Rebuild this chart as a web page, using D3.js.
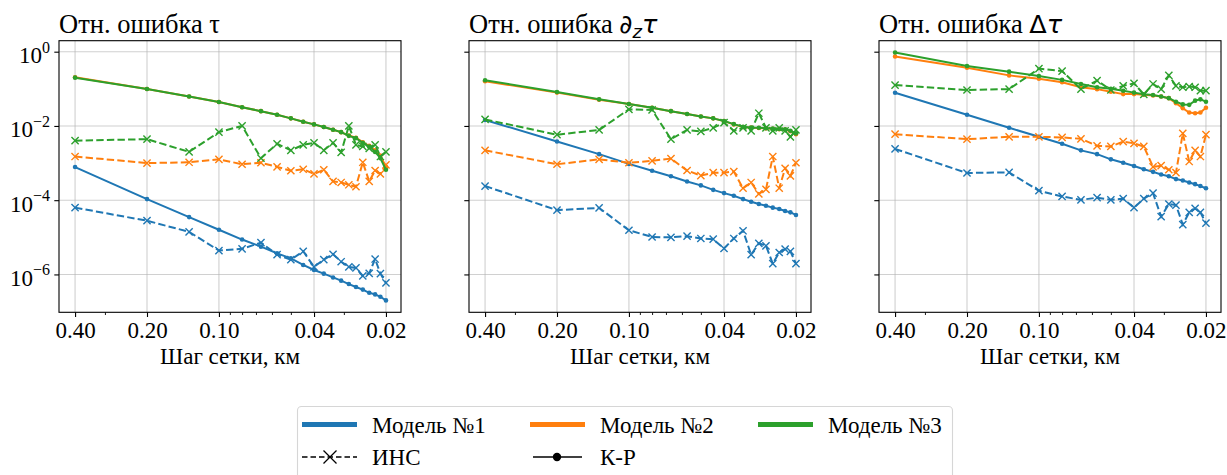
<!DOCTYPE html>
<html>
<head>
<meta charset="utf-8">
<script src="https://cdn.jsdelivr.net/npm/d3@7"></script>
<style>
  body { margin: 0; background: #fff; }
  text { font-family: "Liberation Serif", "Times New Roman", serif; fill: #000; }
</style>
</head>
<body>
<svg id="chart" width="1227" height="475"></svg>
<script>
// grid step, km (0.4 / n)
const steps = [0.4, 0.2, 0.1333, 0.1, 0.08, 0.0667, 0.0571, 0.05, 0.0444, 0.04,
  0.0364, 0.0333, 0.0308, 0.0286, 0.0267, 0.025, 0.0235, 0.0222, 0.0211, 0.02];

const xTicks = [0.4, 0.2, 0.1, 0.04, 0.02];
const xTickLabels = ['0.40', '0.20', '0.10', '0.04', '0.02'];
const xMinor = [0.3, 0.09, 0.08, 0.07, 0.06, 0.05, 0.03];
const yTicks = [1, 1e-2, 1e-4, 1e-6];
const yTickExp = ['0', '\u22122', '\u22124', '\u22126'];

const models = ['Модель №1', 'Модель №2', 'Модель №3'];
const colors = ['#1f77b4', '#ff7f0e', '#2ca02c'];

// panel 1: τ
const tauKrM1 = [7.8e-4, 1.07e-4, 3.5e-5, 1.6e-5, 8.7e-6, 5.6e-6, 3.7e-6, 2.7e-6, 1.8e-6, 1.32e-6,
  1.05e-6, 8.3e-7, 6.8e-7, 5.5e-7, 4.6e-7, 3.9e-7, 3.2e-7, 2.9e-7, 2.5e-7, 2.0e-7];
const tauInsM1 = [6.3e-5, 2.8e-5, 1.4e-5, 4.4e-6, 4.9e-6, 7.2e-6, 3.4e-6, 2.5e-6, 4.2e-6, 1.6e-6,
  2.5e-6, 3.5e-6, 2.2e-6, 1.6e-6, 1.5e-6, 9.1e-7, 1.07e-6, 2.6e-6, 1.05e-6, 5.9e-7];
const tauKrM2 = [2.05e-1, 9.9e-2, 6.2e-2, 4.4e-2, 3.2e-2, 2.5e-2, 2.0e-2, 1.6e-2, 1.3e-2, 1.1e-2,
  9.4e-3, 7.9e-3, 6.8e-3, 5.5e-3, 4.8e-3, 3.6e-3, 2.9e-3, 2.2e-3, 1.6e-3, 7.9e-4];
const tauInsM2 = [1.5e-3, 1.0e-3, 1.05e-3, 1.26e-3, 9.3e-4, 1.02e-3, 7.9e-4, 6.2e-4, 6.8e-4, 5.1e-4,
  6.6e-4, 3.2e-4, 3.0e-4, 2.6e-4, 2.3e-4, 1.05e-3, 3.2e-4, 6.3e-4, 5.1e-4, 8.9e-4];
const tauKrM3 = [2.0e-1, 9.9e-2, 6.2e-2, 4.4e-2, 3.2e-2, 2.5e-2, 2.0e-2, 1.6e-2, 1.3e-2, 1.1e-2,
  9.4e-3, 7.9e-3, 6.8e-3, 5.4e-3, 4.7e-3, 3.5e-3, 2.8e-3, 2.0e-3, 1.35e-3, 6.6e-4];
const tauInsM3 = [4.0e-3, 4.4e-3, 2.0e-3, 6.8e-3, 1.0e-2, 1.35e-3, 3.3e-3, 2.2e-3, 3.1e-3, 3.5e-3,
  2.2e-3, 3.5e-3, 1.95e-3, 1.0e-2, 3.1e-3, 2.8e-3, 2.5e-3, 3.1e-3, 1.5e-3, 2.0e-3];

// panel 2: ∂zτ
const dzKrM1 = [1.45e-2, 3.8e-3, 1.74e-3, 9.5e-4, 6.2e-4, 4.4e-4, 3.2e-4, 2.5e-4, 1.9e-4, 1.55e-4,
  1.32e-4, 1.07e-4, 9.1e-5, 7.9e-5, 7.1e-5, 6.3e-5, 5.8e-5, 5.1e-5, 4.7e-5, 4.0e-5];
const dzInsM1 = [2.4e-4, 5.4e-5, 6.2e-5, 1.55e-5, 1.02e-5, 1.0e-5, 1.07e-5, 9.3e-6, 8.9e-6, 5.0e-6,
  9.3e-6, 1.5e-5, 3.4e-6, 6.9e-6, 5.9e-6, 1.95e-6, 3.9e-6, 4.8e-6, 4.2e-6, 1.95e-6];
const dzKrM2 = [1.6e-1, 7.9e-2, 5.1e-2, 3.9e-2, 3.1e-2, 2.5e-2, 2.1e-2, 1.8e-2, 1.6e-2, 1.35e-2,
  1.1e-2, 9.4e-3, 9.0e-3, 8.8e-3, 8.6e-3, 8.4e-3, 8.2e-3, 8.0e-3, 7.2e-3, 6.0e-3];
const dzInsM2 = [2.2e-3, 9.3e-4, 1.26e-3, 1.02e-3, 1.15e-3, 1.32e-3, 6.3e-4, 4.6e-4, 5.5e-4, 5.5e-4,
  5.9e-4, 2.1e-4, 3.0e-4, 1.48e-4, 1.95e-4, 1.5e-3, 2.1e-4, 7.2e-4, 4.5e-4, 1.02e-3];
const dzKrM3 = [1.7e-1, 8.2e-2, 5.2e-2, 3.9e-2, 3.1e-2, 2.5e-2, 2.1e-2, 1.8e-2, 1.6e-2, 1.36e-2,
  1.12e-2, 9.5e-3, 9.1e-3, 8.9e-3, 8.7e-3, 8.5e-3, 8.3e-3, 8.1e-3, 7.4e-3, 6.3e-3];
const dzInsM3 = [1.5e-2, 5.8e-3, 7.8e-3, 2.8e-2, 2.7e-2, 4.4e-3, 7.8e-3, 7.1e-3, 8.9e-3, 1.23e-2,
  7.4e-3, 8.9e-3, 7.4e-3, 2.2e-2, 8.9e-3, 7.4e-3, 8.9e-3, 7.4e-3, 5.1e-3, 7.8e-3];

// panel 3: Δτ
const lapKrM1 = [7.8e-2, 2.0e-2, 8.9e-3, 5.1e-3, 3.3e-3, 2.2e-3, 1.74e-3, 1.26e-3, 1.02e-3, 8.3e-4,
  6.8e-4, 5.8e-4, 4.9e-4, 4.4e-4, 3.7e-4, 3.4e-4, 3.0e-4, 2.7e-4, 2.4e-4, 2.1e-4];
const lapInsM1 = [2.4e-3, 5.4e-4, 5.6e-4, 1.8e-4, 1.26e-4, 1.02e-4, 1.17e-4, 1.02e-4, 1.1e-4, 6.3e-5,
  1.1e-4, 1.55e-4, 3.6e-5, 7.9e-5, 7.4e-5, 2.2e-5, 4.7e-5, 6.0e-5, 4.7e-5, 2.4e-5];
const lapKrM2 = [7.4e-1, 3.7e-1, 2.3e-1, 1.86e-1, 1.5e-1, 1.1e-1, 9.8e-2, 8.3e-2, 7.2e-2, 7.2e-2,
  6.9e-2, 6.6e-2, 6.2e-2, 5.6e-2, 4.1e-2, 3.0e-2, 2.3e-2, 2.2e-2, 2.3e-2, 3.1e-2];
const lapInsM2 = [6.0e-3, 4.4e-3, 5.1e-3, 5.1e-3, 4.9e-3, 4.5e-3, 2.9e-3, 2.8e-3, 3.8e-3, 3.4e-3,
  2.8e-3, 7.9e-4, 8.5e-4, 6.6e-4, 5.5e-4, 6.3e-3, 1.1e-3, 2.2e-3, 1.5e-3, 5.8e-3];
const lapKrM3 = [9.5e-1, 4.1e-1, 2.9e-1, 2.2e-1, 1.74e-1, 1.35e-1, 1.1e-1, 1.0e-1, 8.9e-2, 7.9e-2,
  7.1e-2, 6.8e-2, 6.2e-2, 5.6e-2, 4.5e-2, 3.8e-2, 3.7e-2, 4.8e-2, 5.2e-2, 4.5e-2];
const lapInsM3 = [1.26e-1, 9.3e-2, 9.8e-2, 3.5e-1, 3.0e-1, 9.8e-2, 1.66e-1, 9.3e-2, 1.2e-1, 1.4e-1,
  7.1e-2, 1.35e-1, 9.8e-2, 2.3e-1, 1.2e-1, 1.1e-1, 1.15e-1, 1.1e-1, 8.9e-2, 8.9e-2];

const panels = [
  { kr: [tauKrM1, tauKrM2, tauKrM3], ins: [tauInsM1, tauInsM2, tauInsM3] },
  { kr: [dzKrM1, dzKrM2, dzKrM3], ins: [dzInsM1, dzInsM2, dzInsM3] },
  { kr: [lapKrM1, lapKrM2, lapKrM3], ins: [lapInsM1, lapInsM2, lapInsM3] }
];

const svg = d3.select('#chart');
const lefts = [59, 469, 879];
const panelTop = 40.7;
const width = 342;
const height = 271.6;

const x = d3.scaleLog().domain([0.467, 0.0173]).range([0, width]);
const y = d3.scaleLog().domain([9.55e-8, 1.977]).range([height, 0]);

const line = d3.line()
  .x(d => x(d[0]))
  .y(d => y(d[1]));

panels.forEach((p, i) => {
  const g = svg.append('g').attr('transform', `translate(${lefts[i]}, ${panelTop})`);

  // grid
  g.selectAll('.vgrid').data(xTicks).enter().append('line')
    .attr('x1', d => x(d)).attr('x2', d => x(d))
    .attr('y1', 0).attr('y2', height)
    .attr('stroke', '#b0b0b0').attr('stroke-opacity', 0.6).attr('stroke-width', 1.1);
  g.selectAll('.hgrid').data(yTicks).enter().append('line')
    .attr('y1', d => y(d)).attr('y2', d => y(d))
    .attr('x1', 0).attr('x2', width)
    .attr('stroke', '#b0b0b0').attr('stroke-opacity', 0.6).attr('stroke-width', 1.1);

  // series: model by model, ИНС then К-Р
  for (let m = 0; m < 3; m++) {
    const ins = steps.map((s, k) => [s, p.ins[m][k]]);
    const kr = steps.map((s, k) => [s, p.kr[m][k]]);

    g.append('path').datum(ins)
      .attr('d', line).attr('fill', 'none')
      .attr('stroke', colors[m]).attr('stroke-width', 2)
      .attr('stroke-dasharray', '7.4,3.2');
    g.append('g').selectAll('path').data(ins).enter().append('path')
      .attr('d', d => {
        const cx = x(d[0]), cy = y(d[1]), r = 3.6;
        return `M${cx - r},${cy - r}L${cx + r},${cy + r}M${cx - r},${cy + r}L${cx + r},${cy - r}`;
      })
      .attr('stroke', colors[m]).attr('stroke-width', 1.4);

    g.append('path').datum(kr)
      .attr('d', line).attr('fill', 'none')
      .attr('stroke', colors[m]).attr('stroke-width', 2);
    g.append('g').selectAll('circle').data(kr).enter().append('circle')
      .attr('cx', d => x(d[0])).attr('cy', d => y(d[1])).attr('r', 2.3)
      .attr('fill', colors[m]);
  }

  // frame
  g.append('rect').attr('width', width).attr('height', height)
    .attr('fill', 'none').attr('stroke', '#000').attr('stroke-width', 1.1);

  // x axis
  const xAxis = d3.axisBottom(x)
    .tickValues(xTicks)
    .tickFormat((d, k) => xTickLabels[k])
    .tickSize(4.7).tickPadding(5);
  const xg = g.append('g').attr('transform', `translate(0, ${height})`).call(xAxis);
  xg.select('.domain').remove();
  xg.selectAll('line').attr('stroke-width', 1.1);
  xg.selectAll('text').attr('font-size', 23).attr('font-family', 'Liberation Serif');

  const xmg = g.append('g').attr('transform', `translate(0, ${height})`)
    .call(d3.axisBottom(x).tickValues(xMinor).tickFormat('').tickSize(2.7));
  xmg.select('.domain').remove();
  xmg.selectAll('line').attr('stroke-width', 0.9);

  // y axis
  const yAxis = d3.axisLeft(y).tickValues(yTicks).tickFormat('').tickSize(4.7);
  const yg = g.append('g').call(yAxis);
  yg.select('.domain').remove();
  yg.selectAll('line').attr('stroke-width', 1.1);
  if (i === 0) {
    yTicks.forEach((t, k) => {
      const txt = g.append('text')
        .attr('x', -9).attr('y', y(t) + 11.5)
        .attr('text-anchor', 'end').attr('font-size', 23);
      txt.append('tspan').text('10');
      txt.append('tspan').attr('dy', -10.5).attr('font-size', 16).text(yTickExp[k]);
    });
  }

  // x label
  g.append('text')
    .attr('x', width / 2).attr('y', height + 52)
    .attr('text-anchor', 'middle').attr('font-size', 23)
    .text('Шаг сетки, км');

  // title
  const title = g.append('text').attr('x', 0).attr('y', -8).attr('font-size', 26.5);
  if (i === 0) {
    title.text('Отн. ошибка τ');
  } else if (i === 1) {
    title.append('tspan').text('Отн. ошибка ');
    title.append('tspan').attr('font-family', 'DejaVu Sans').attr('font-style', 'italic')
      .attr('font-size', 25.5).text('∂');
    title.append('tspan').attr('font-family', 'DejaVu Sans').attr('font-style', 'italic')
      .attr('font-size', 18).attr('dy', 5).text('z');
    title.append('tspan').attr('font-family', 'DejaVu Sans').attr('font-style', 'italic')
      .attr('font-size', 25.5).attr('dy', -5).text('τ');
  } else {
    title.append('tspan').text('Отн. ошибка ');
    title.append('tspan').attr('font-family', 'DejaVu Sans')
      .attr('font-size', 25.5).text('Δ');
    title.append('tspan').attr('font-family', 'DejaVu Sans').attr('font-style', 'italic')
      .attr('font-size', 25.5).text('τ');
  }
});

// legend
const lg = svg.append('g');
lg.append('rect')
  .attr('x', 297.5).attr('y', 406.5).attr('width', 655).attr('height', 90)
  .attr('rx', 4).attr('fill', '#fff').attr('stroke', '#d6d6d6').attr('stroke-width', 1.1);

const colX = [302, 530, 758];
const row1 = 424.5;
const row2 = 457;
models.forEach((name, m) => {
  lg.append('line')
    .attr('x1', colX[m]).attr('x2', colX[m] + 55)
    .attr('y1', row1).attr('y2', row1)
    .attr('stroke', colors[m]).attr('stroke-width', 5);
  lg.append('text')
    .attr('x', colX[m] + 70).attr('y', row1 + 8)
    .attr('font-size', 23).text(name);
});

// ИНС handle
lg.append('line')
  .attr('x1', colX[0]).attr('x2', colX[0] + 55)
  .attr('y1', row2).attr('y2', row2)
  .attr('stroke', '#000').attr('stroke-width', 1.5)
  .attr('stroke-dasharray', '5.5,3');
lg.append('path')
  .attr('d', `M${colX[0] + 21.5},${row2 - 6.5}L${colX[0] + 34.5},${row2 + 6.5}M${colX[0] + 21.5},${row2 + 6.5}L${colX[0] + 34.5},${row2 - 6.5}`)
  .attr('stroke', '#000').attr('stroke-width', 1.3);
lg.append('text')
  .attr('x', colX[0] + 70).attr('y', row2 + 8)
  .attr('font-size', 23).text('ИНС');

// К-Р handle
lg.append('line')
  .attr('x1', colX[1] + 3).attr('x2', colX[1] + 52)
  .attr('y1', row2).attr('y2', row2)
  .attr('stroke', '#000').attr('stroke-width', 1.5);
lg.append('circle')
  .attr('cx', colX[1] + 27).attr('cy', row2).attr('r', 4.2).attr('fill', '#000');
lg.append('text')
  .attr('x', colX[1] + 70).attr('y', row2 + 8)
  .attr('font-size', 23).text('К-Р');
</script>
</body>
</html>
